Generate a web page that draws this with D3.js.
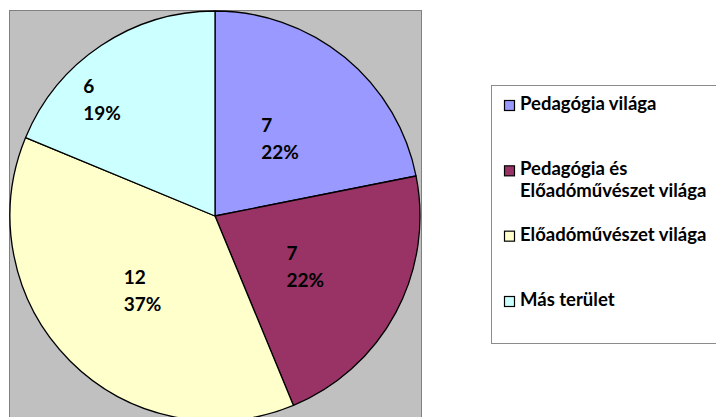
<!DOCTYPE html>
<html>
<head>
<meta charset="utf-8">
<script src="https://cdn.jsdelivr.net/npm/d3@7"></script>
<style>
  html, body { margin: 0; padding: 0; background: #fff; }
  svg { display: block; font-family: Lato, 'Liberation Sans', sans-serif; font-weight: bold; }
</style>
</head>
<body>
<svg id="chart" width="716" height="417"></svg>
<script>
// data
const categories = ['Pedagógia világa', 'Pedagógia és Előadóművészet világa', 'Előadóművészet világa', 'Más terület'];
const legendLines = [['Pedagógia világa'], ['Pedagógia és', 'Előadóművészet világa'], ['Előadóművészet világa'], ['Más terület']];
const values = [7, 7, 12, 6];
const percentLabels = ['22%', '22%', '37%', '19%'];
const colors = ['#9999FF', '#993366', '#FFFFCC', '#CCFFFF'];

// label tweaks (the last one was dragged in the original)
const labelNudge = [[0, 2], [0, 3], [0, 3], [-56, -31]];

const svg = d3.select('#chart');

const plot = { x: 9, y: 10, w: 412, h: 420 };
const cx = 215;
const cy = 216;
const radius = 205;

// plot area
svg.append('rect')
    .attr('x', plot.x + 0.5)
    .attr('y', plot.y + 0.5)
    .attr('width', plot.w)
    .attr('height', plot.h)
    .attr('fill', '#C0C0C0')
    .attr('stroke', '#808080')
    .attr('stroke-width', 1);

const pie = d3.pie()
    .sort(null)
    .value(d => d);

const arcs = pie(values);

const arc = d3.arc()
    .innerRadius(0)
    .outerRadius(radius);

const g = svg.append('g')
    .attr('transform', `translate(${cx},${cy})`);

g.selectAll('path.slice')
  .data(arcs)
  .enter()
  .append('path')
    .attr('class', 'slice')
    .attr('d', arc)
    .attr('fill', (d, i) => colors[i])
    .attr('stroke', '#000')
    .attr('stroke-width', 1.3)
    .attr('stroke-linejoin', 'round');

// data labels: value on the first line, percent on the second, left aligned
const labels = g.selectAll('g.lbl')
  .data(arcs)
  .enter()
  .append('g')
    .attr('class', 'lbl');

labels.each(function(d, i) {
  const c = arc.centroid(d);
  const x = c[0] + labelNudge[i][0];
  const y = c[1] + labelNudge[i][1];
  const grp = d3.select(this);
  const t1 = grp.append('text')
      .attr('y', y - 7)
      .attr('font-size', 19)
      .attr('fill', '#000')
      .text(values[i]);
  const t2 = grp.append('text')
      .attr('y', y + 20)
      .attr('font-size', 19)
      .attr('fill', '#000')
      .text(percentLabels[i]);
  const w = Math.max(t1.node().getComputedTextLength(), t2.node().getComputedTextLength());
  t1.attr('x', x - w / 2);
  t2.attr('x', x - w / 2);
});

// legend
svg.append('rect')
    .attr('x', 491.5)
    .attr('y', 85.5)
    .attr('width', 240)
    .attr('height', 258)
    .attr('fill', '#fff')
    .attr('stroke', '#8c8c8c')
    .attr('stroke-width', 1);

const legendY = d3.scalePoint()
    .domain(categories)
    .range([110, 306]);

const legend = svg.selectAll('g.legend')
  .data(categories)
  .enter()
  .append('g')
    .attr('class', 'legend')
    .attr('transform', d => `translate(0,${legendY(d)})`);

legend.append('rect')
    .attr('x', 504.5)
    .attr('y', -9.5)
    .attr('width', 10)
    .attr('height', 10)
    .attr('fill', (d, i) => colors[i])
    .attr('stroke', '#000')
    .attr('stroke-width', 1.2);

legend.append('text')
    .attr('x', 520)
    .attr('font-size', 18.5)
    .attr('fill', '#000')
  .selectAll('tspan')
  .data((d, i) => legendLines[i])
  .enter()
  .append('tspan')
    .attr('x', 520)
    .attr('dy', (d, j) => j === 0 ? 0 : 22)
    .text(d => d);
</script>
</body>
</html>
